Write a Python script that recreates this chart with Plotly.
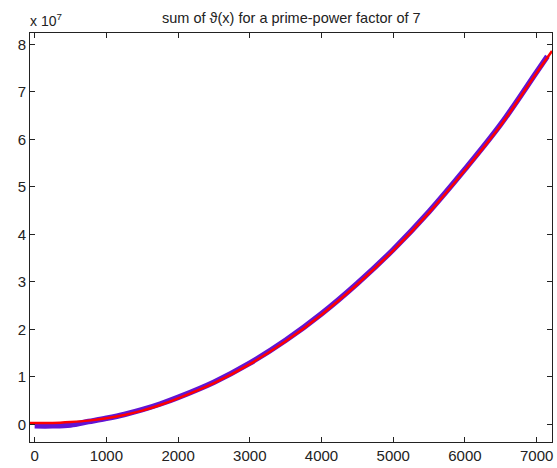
import plotly.graph_objects as go

# x values and sums in units of 1e7
x_red = [-65, 0, 250, 500, 750, 1000, 1250, 1500, 1750, 2000, 2500, 3000, 3500, 4000,
         4500, 5000, 5500, 6000, 6500, 7000, 7214]
y_red = [0.03, 0.03, 0.03, 0.05, 0.08, 0.13, 0.20, 0.29, 0.41, 0.55, 0.87, 1.27, 1.75, 2.31,
         2.95, 3.66, 4.46, 5.35, 6.30, 7.40, 7.86]

x_blue = [0, 250, 500, 750, 1000, 1250, 1500, 1750, 2000, 2500, 3000, 3500, 4000,
          4500, 5000, 5500, 6000, 6500, 7000, 7150]
y_blue = [-0.03, -0.03, -0.01, 0.06, 0.13, 0.21, 0.31, 0.43, 0.57, 0.89, 1.29, 1.77, 2.33,
          2.97, 3.68, 4.48, 5.37, 6.32, 7.42, 7.75]

x_ticks = [0, 1000, 2000, 3000, 4000, 5000, 6000, 7000]
y_ticks = [0, 1, 2, 3, 4, 5, 6, 7, 8]

FONT = "Liberation Sans, Arial, Helvetica"

fig = go.Figure()
fig.add_trace(go.Scatter(x=x_blue, y=y_blue, mode="lines",
                         line=dict(color="#6214d4", width=5.5, shape="spline"), showlegend=False))
fig.add_trace(go.Scatter(x=x_red, y=y_red, mode="lines",
                         line=dict(color="#ff0000", width=2.5, shape="spline"), showlegend=False))

axis_common = dict(showgrid=False, zeroline=False, showline=True, linecolor="#222", linewidth=1,
                   mirror="ticks", ticks="inside", ticklen=5, tickcolor="#222",
                   tickfont=dict(family=FONT, size=15, color="#222"))

fig.update_xaxes(range=[-65, 7214], tickvals=x_ticks, ticktext=[str(v) for v in x_ticks], **axis_common)
fig.update_yaxes(range=[-0.37, 8.24], tickvals=y_ticks, ticktext=[str(v) for v in y_ticks], **axis_common)

fig.update_layout(
    width=557, height=468,
    margin=dict(l=30, r=4, t=33, b=22),
    plot_bgcolor="white", paper_bgcolor="white",
    title=dict(text="sum of \u03d1(x) for a prime-power factor of 7", x=0.523, xanchor="center",
               y=0.962, yanchor="middle", font=dict(family=FONT, size=14.5, color="#222")),
    annotations=[dict(text="x 10<sup>7</sup>", xref="paper", yref="paper", x=-0.003, y=1.0,
                      xanchor="left", yanchor="bottom", yshift=2, showarrow=False,
                      font=dict(family=FONT, size=14, color="#222"))],
)

fig.write_html("out.html")
